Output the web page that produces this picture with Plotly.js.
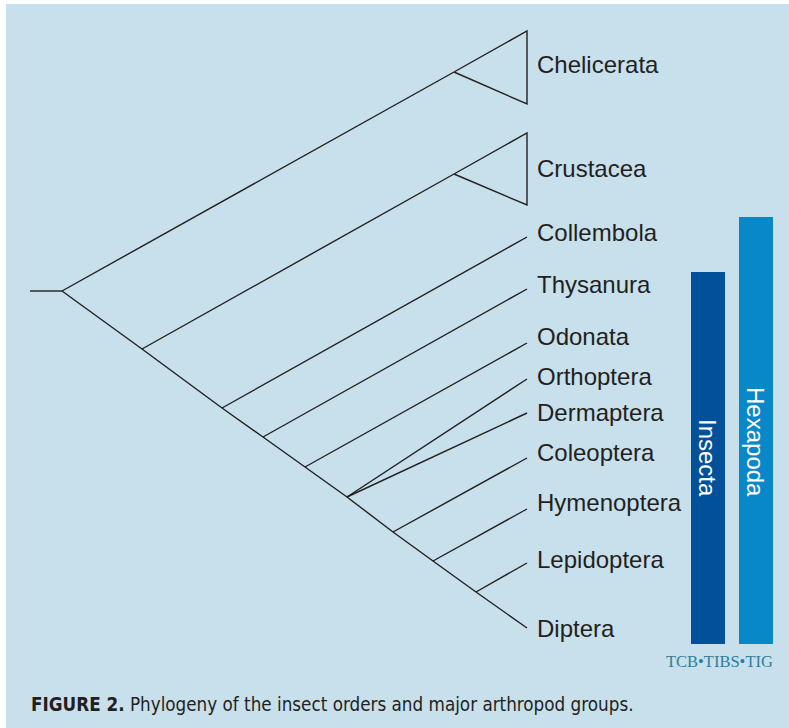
<!DOCTYPE html>
<html>
<head>
<meta charset="utf-8">
<script src="https://cdn.plot.ly/plotly-3.0.1.min.js"></script>
<style>html,body{margin:0;padding:0;background:#fff;}#chart{width:789px;height:728px;}</style>
</head>
<body>
<div id="chart"></div>
<script>
// ---- Data (tree in drawing units: x = branch depth, y = vertical order) ----
const taxa = ['Chelicerata','Crustacea','Collembola','Thysanura','Odonata','Orthoptera','Dermaptera','Coleoptera','Hymenoptera','Lepidoptera','Diptera'];
const tipY = [null, null, 237, 289, 343, 379, 413, 458, 509, 563, 628];
const tipParent = [9, 10, 2, 3, 4, 5, 5, 6, 7, 8, 8];
const labelY = [67, 171, 235, 287, 339, 379, 415, 455, 505, 562, 631];
const tipDepth = 527;

// internal nodes: 0 root, 1..8 backbone, 9 Chelicerata clade, 10 Crustacea clade
const nodeX = [62, 142, 222, 263, 305, 347, 393, 433, 476, 454, 454];
const nodeY = [291, 349, 408, 437, 467, 497, 532, 561, 592, 72, 174];
const nodeParent = [-1, 0, 1, 2, 3, 4, 5, 6, 7, 0, 1];
const rootStubX = 30;

// collapsed clades (triangles): clade node, top and bottom of the triangle
const cladeTaxa = ['Chelicerata', 'Crustacea'];
const cladeNode = [9, 10];
const cladeTop = [31, 133];
const cladeBottom = [104, 205];

// groups shown as bars
const groups = ['Insecta', 'Hexapoda'];
const groupTop = [272, 217];
const groupBottom = [644, 644];
const groupLabelY = [458, 442];
const groupColors = ['#00519a', '#0887c9'];

const caption = '<b>FIGURE 2.</b> Phylogeny of the insect orders and major arthropod groups.';
const credit = 'TCB\u2022TIBS\u2022TIG';

// ---- Build edges ----
const ex = [], ey = [];
function seg(x0, y0, x1, y1) { ex.push(x0, x1, null); ey.push(y0, y1, null); }
seg(rootStubX, nodeY[0], nodeX[0], nodeY[0]);
for (let i = 0; i < nodeX.length; i++) {
  const p = nodeParent[i];
  if (p >= 0) seg(nodeX[p], nodeY[p], nodeX[i], nodeY[i]);
}
for (let i = 0; i < taxa.length; i++) {
  if (tipY[i] !== null) {
    const p = tipParent[i];
    seg(nodeX[p], nodeY[p], tipDepth, tipY[i]);
  }
}
for (let k = 0; k < cladeNode.length; k++) {
  const n = cladeNode[k];
  ex.push(nodeX[n], tipDepth, tipDepth, nodeX[n], null);
  ey.push(nodeY[n], cladeTop[k], cladeBottom[k], nodeY[n], null);
}

const dark = '#231f20';
const traces = [
  {type: 'scatter', mode: 'lines', x: ex, y: ey, line: {color: dark, width: 1.4}, hoverinfo: 'skip', showlegend: false},
  {type: 'scatter', mode: 'text', x: taxa.map(() => tipDepth + 10), y: labelY, text: taxa,
   textposition: 'middle right', textfont: {family: 'Liberation Sans, Arial, sans-serif', size: 24, color: dark},
   hoverinfo: 'skip', showlegend: false},
  {type: 'bar', x: [708, 756], base: groupBottom, y: groupTop.map((t, i) => t - groupBottom[i]),
   width: [34, 34], marker: {color: groupColors, line: {width: 0}}, hoverinfo: 'skip', showlegend: false}
];

const annotations = groups.map((g, i) => ({
  x: [708, 756][i], y: groupLabelY[i], xref: 'x', yref: 'y', text: g, showarrow: false, textangle: 90,
  font: {family: 'Liberation Sans, Arial, sans-serif', size: 24, color: '#ffffff'}
}));
annotations.push({x: 719, y: 661, xref: 'x', yref: 'y', text: credit, showarrow: false,
  font: {family: 'Liberation Serif, Times New Roman, serif', size: 16.5, color: '#2b7f9b'}});
annotations.push({x: 29, y: 704, xref: 'x', yref: 'y', xanchor: 'left', text: caption, showarrow: false,
  font: {family: 'DejaVu Sans Condensed, Liberation Sans Narrow, Arial Narrow, sans-serif', size: 18.7, color: dark}});

const layout = {
  width: 789, height: 728,
  margin: {l: 0, r: 0, t: 0, b: 0},
  paper_bgcolor: '#ffffff', plot_bgcolor: '#ffffff',
  xaxis: {range: [0, 789], visible: false, fixedrange: true},
  yaxis: {range: [728, 0], visible: false, fixedrange: true},
  shapes: [{type: 'rect', xref: 'x', yref: 'y', x0: 6, x1: 789, y0: 4, y1: 728, fillcolor: '#c8dfec', line: {width: 0}, layer: 'below'}],
  annotations: annotations,
  showlegend: false
};

Plotly.newPlot('chart', traces, layout, {displayModeBar: false, staticPlot: true});
</script>
</body>
</html>
